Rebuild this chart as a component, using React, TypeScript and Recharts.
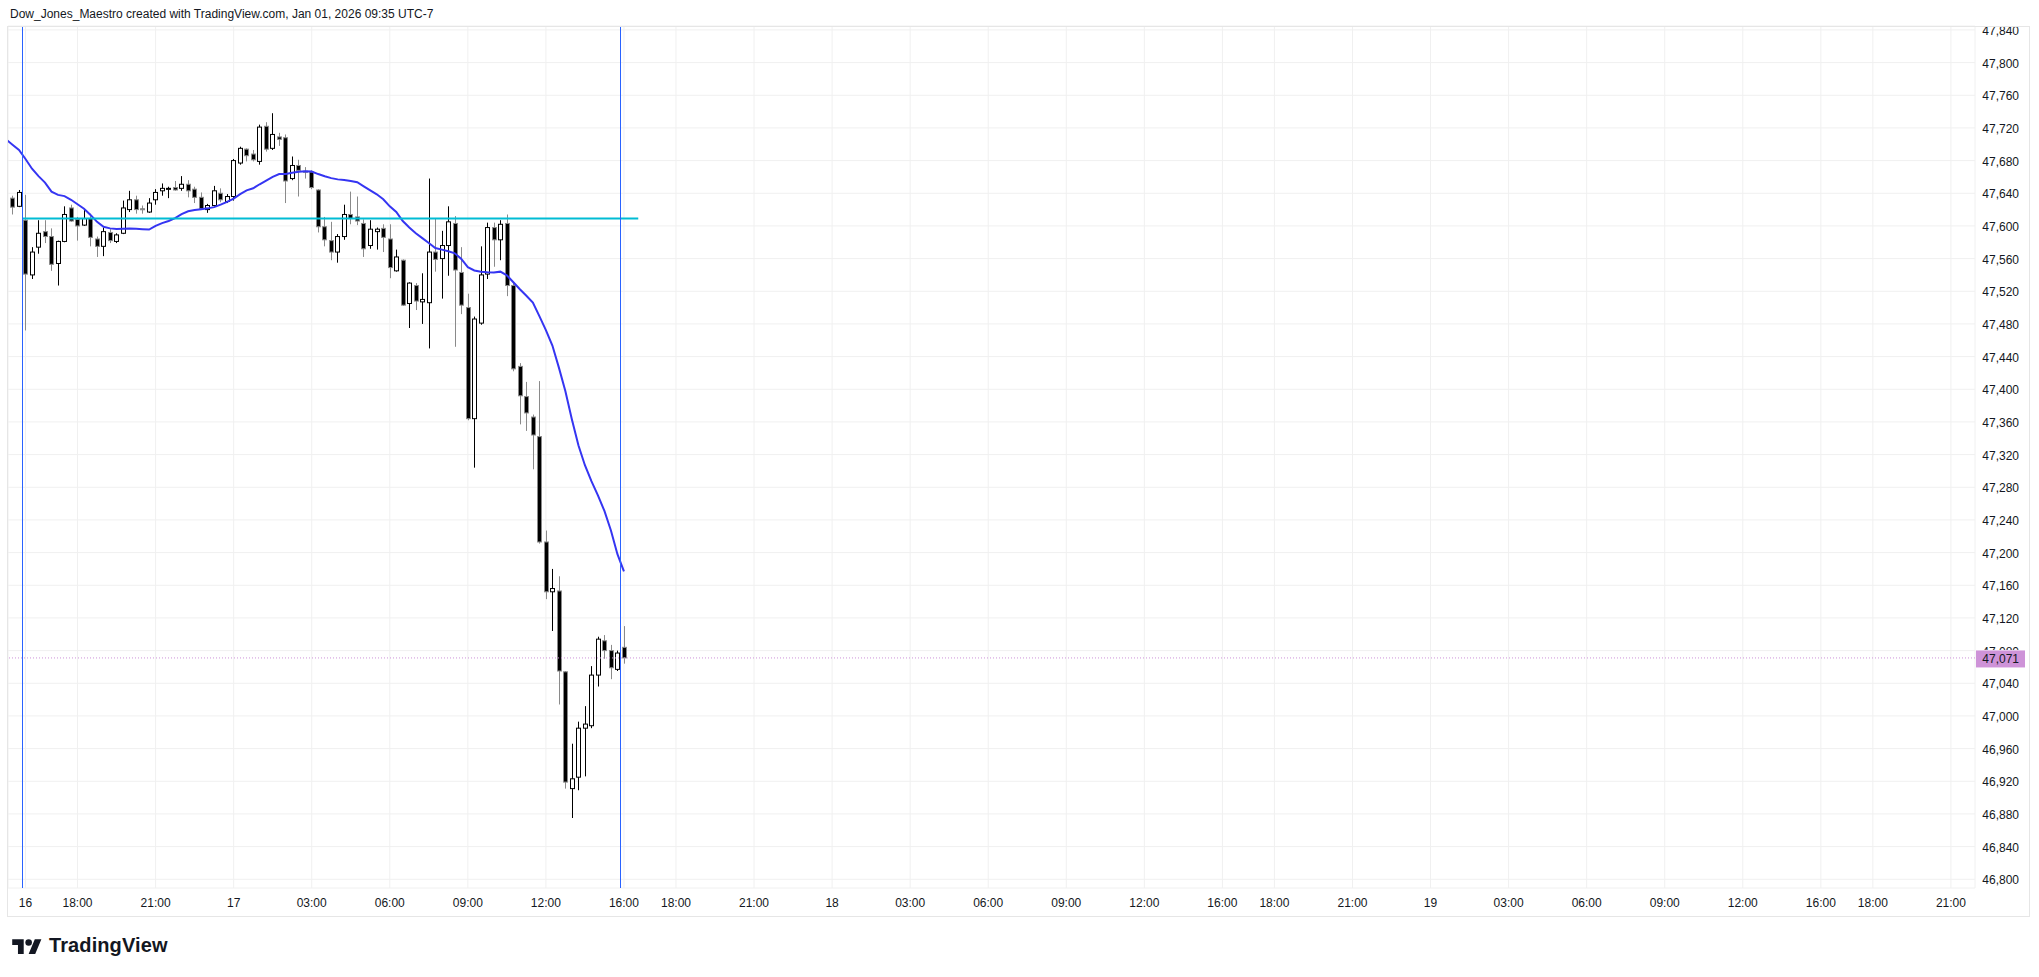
import { ComposedChart, Bar, Line, XAxis, YAxis, CartesianGrid, ReferenceLine } from "recharts"

const FONT = '"Liberation Sans", Arial, sans-serif'
const TEXT = "#131722"

// 15 minute bars. Index 0 = 16:00 session open on the 16th, first two bars are from the previous session
const firstIndex = -2
const opens = [
  47634, 47624, 47607, 47540, 47574, 47593, 47587, 47554, 47581, 47622,
  47608, 47601, 47609, 47584, 47575, 47592, 47581, 47591, 47620, 47632,
  47621, 47617, 47632, 47643, 47645, 47647, 47646, 47651, 47645, 47635,
  47620, 47625, 47640, 47630, 47636, 47677, 47694, 47688, 47679, 47722,
  47695, 47709, 47708, 47658, 47674, 47667, 47666, 47644, 47599, 47582,
  47568, 47587, 47614, 47611, 47603, 47576, 47593, 47597, 47584, 47545,
  47558, 47505, 47527, 47507, 47506, 47568, 47560, 47576, 47603, 47543,
  47500, 47364, 47481, 47541, 47598, 47583, 47603, 47527, 47428, 47391,
  47366, 47342, 47213, 47152, 47153, 47054, 46911, 46925, 46985, 46988,
  47050, 47092, 47080, 47057, 47084,
]
const highs = [
  47637, 47644, 47638, 47574, 47607, 47607, 47597, 47582, 47624, 47626,
  47611, 47620, 47615, 47587, 47598, 47596, 47591, 47631, 47643, 47637,
  47625, 47634, 47645, 47652, 47648, 47655, 47661, 47656, 47648, 47641,
  47627, 47649, 47646, 47639, 47682, 47697, 47695, 47693, 47724, 47727,
  47738, 47714, 47712, 47685, 47681, 47672, 47668, 47645, 47611, 47605,
  47590, 47626, 47642, 47636, 47608, 47607, 47598, 47602, 47602, 47571,
  47559, 47531, 47530, 47542, 47658, 47609, 47594, 47624, 47612, 47574,
  47517, 47489, 47575, 47604, 47604, 47607, 47614, 47530, 47432, 47409,
  47369, 47410, 47227, 47180, 47171, 47055, 46966, 46993, 47012, 47061,
  47097, 47099, 47087, 47080, 47110,
]
const lows = [
  47614, 47623, 47472, 47535, 47566, 47579, 47545, 47527, 47580, 47605,
  47582, 47600, 47575, 47562, 47563, 47579, 47579, 47590, 47617, 47615,
  47615, 47616, 47626, 47637, 47634, 47643, 47643, 47635, 47628, 47620,
  47616, 47624, 47629, 47628, 47631, 47675, 47679, 47679, 47675, 47691,
  47693, 47698, 47628, 47656, 47636, 47658, 47645, 47592, 47575, 47558,
  47555, 47583, 47602, 47601, 47562, 47572, 47571, 47568, 47536, 47544,
  47502, 47475, 47497, 47480, 47450, 47544, 47511, 47539, 47452, 47492,
  47362, 47304, 47479, 47535, 47550, 47558, 47514, 47422, 47357, 47349,
  47302, 47211, 47143, 47104, 47014, 46911, 46875, 46909, 46926, 46985,
  47036, 47070, 47045, 47055, 47064,
]
const closes = [
  47623, 47641, 47541, 47568, 47591, 47587, 47553, 47581, 47614, 47606,
  47600, 47609, 47586, 47575, 47593, 47582, 47589, 47622, 47632, 47620,
  47620, 47628, 47641, 47646, 47646, 47644, 47651, 47643, 47635, 47621,
  47625, 47643, 47632, 47636, 47680, 47695, 47686, 47681, 47721, 47694,
  47712, 47706, 47655, 47674, 47668, 47666, 47647, 47599, 47583, 47568,
  47587, 47614, 47609, 47606, 47572, 47596, 47596, 47586, 47549, 47562,
  47503, 47530, 47508, 47510, 47568, 47559, 47576, 47605, 47546, 47503,
  47364, 47486, 47540, 47598, 47583, 47602, 47527, 47425, 47392, 47371,
  47344, 47213, 47152, 47156, 47055, 46919, 46923, 46985, 46990, 47050,
  47094, 47080, 47059, 47077, 47071,
]

// moving average, one value per bar, starting one bar left of the first candle
const maStart = -3
const maValues = [
  47706, 47699.5, 47693, 47682, 47670, 47661, 47653, 47642, 47638, 47636.5,
  47632, 47626.5, 47621, 47613.5, 47605, 47599, 47597, 47596.3, 47596.5, 47596.7,
  47596.5, 47596, 47595.5, 47600, 47603.5, 47606, 47609.5, 47614.5, 47618, 47619.5,
  47620.5, 47621.5, 47623, 47626, 47629.5, 47633.5, 47639, 47643.5, 47646.1, 47651,
  47655.5, 47660, 47663.5, 47663.7, 47665, 47666.3, 47667, 47666.5, 47663.5, 47660.8,
  47658.5, 47657, 47656.2, 47655, 47653.5, 47648.5, 47643.5, 47638.7, 47632.7, 47624,
  47617, 47606, 47598, 47591, 47585, 47579, 47573, 47571, 47569, 47566.5,
  47559.5, 47549.5, 47545.5, 47543.8, 47543.3, 47543, 47544, 47539.5, 47531, 47522.5,
  47514.5, 47506, 47489.5, 47472.5, 47453.5, 47426.5, 47397.5, 47363, 47331.5, 47307,
  47287.5, 47270, 47251, 47227, 47198, 47177,
]

const xTickIndex = [0, 8, 20, 32, 44, 56, 68, 80, 92, 100, 112, 124, 136, 148, 160, 172, 184, 192, 204, 216, 228, 240, 252, 264, 276, 284, 296]
const xTickLabels = [
  "16", "18:00", "21:00", "17", "03:00", "06:00", "09:00", "12:00", "16:00", "18:00", "21:00",
  "18", "03:00", "06:00", "09:00", "12:00", "16:00", "18:00", "21:00",
  "19", "03:00", "06:00", "09:00", "12:00", "16:00", "18:00", "21:00",
]
const priceTicks = [
  46800, 46840, 46880, 46920, 46960, 47000, 47040, 47080, 47120, 47160, 47200, 47240, 47280, 47320,
  47360, 47400, 47440, 47480, 47520, 47560, 47600, 47640, 47680, 47720, 47760, 47800, 47840,
]
const lastPrice = 47071
const levelPrice = 47609
const levelFrom = -0.43
const levelTo = 94.2
const sessionBreaks = [-0.5, 91.5]

const rows = maValues.map((ma, k) => {
  const i = maStart + k
  const j = i - firstIndex
  if (j < 0 || j >= opens.length) return { i, ma }
  return { i, ma, o: opens[j], h: highs[j], l: lows[j], c: closes[j], range: [lows[j], highs[j]] }
})

const fmt = (v: number) => v.toLocaleString("en-US")

function Candle(props: any) {
  const { x, y, width, height, payload } = props
  if (!payload || payload.o == null || !height) return null
  const { o, h, l, c } = payload
  const k = height / (h - l)
  const py = (v: number) => y + (h - v) * k
  const up = c >= o
  const cx = Math.round(x + width / 2) + 0.5
  const top = py(Math.max(o, c))
  const bot = py(Math.min(o, c))
  const edge = up ? "#000000" : "#8a8a8a"
  return (
    <g>
      <line x1={cx} x2={cx} y1={y} y2={y + height} stroke={edge} strokeWidth={1} />
      <rect
        x={cx - 2}
        y={top}
        width={4}
        height={Math.max(bot - top, 1)}
        fill={up ? "#ffffff" : "#000000"}
        stroke={edge}
        strokeWidth={1}
      />
    </g>
  )
}

function TimeTick(props: any) {
  const { x, payload } = props
  const n = xTickIndex.indexOf(payload.value)
  return (
    <text x={x} y={907} textAnchor="middle" fontSize={12} fontFamily={FONT} fill={TEXT}>
      {xTickLabels[n]}
    </text>
  )
}

function PriceTick(props: any) {
  const { y, payload } = props
  // the tick sitting under the last-price badge only shows its top sliver
  const hidden = Math.abs(payload.value - lastPrice) < 20
  const id = `ptclip-${payload.value}`
  return (
    <g>
      {hidden && (
        <defs>
          <clipPath id={id}>
            <rect x={1970} y={y - 12} width={69} height={11.5} />
          </clipPath>
        </defs>
      )}
      <text
        x={2019}
        y={y + 5}
        textAnchor="end"
        fontSize={12}
        fontFamily={FONT}
        fill={TEXT}
        clipPath={hidden ? `url(#${id})` : undefined}
      >
        {fmt(payload.value)}
      </text>
    </g>
  )
}

function PriceBadge(props: any) {
  const { viewBox } = props
  if (!viewBox) return null
  const right = viewBox.x + viewBox.width
  const y = viewBox.y
  return (
    <g>
      <rect x={right + 1} y={y - 7.5} width={49} height={17} fill="#ce93d8" />
      <text x={2019} y={y + 5.5} textAnchor="end" fontSize={12} fontFamily={FONT} fill={TEXT}>
        {fmt(lastPrice)}
      </text>
    </g>
  )
}

export default function App() {
  return (
    <div style={{ position: "absolute", left: 0, top: 0, width: 2039, height: 977, background: "#ffffff", overflow: "hidden" }}>
      <div
        style={{
          position: "absolute", left: 10, top: 7, fontFamily: FONT, fontSize: 12, lineHeight: "14px",
          color: TEXT, whiteSpace: "nowrap",
        }}
      >
        Dow_Jones_Maestro created with TradingView.com, Jan 01, 2026 09:35 UTC-7
      </div>

      <div style={{ position: "absolute", left: 0, top: 0 }}>
        <ComposedChart width={2039} height={977} data={rows} margin={{ top: 26, right: 10, bottom: 60, left: 8 }}>
          <CartesianGrid stroke="#f0f0f0" strokeWidth={1} />
          <XAxis
            type="number"
            dataKey="i"
            domain={[-2.69, 299.7]}
            allowDataOverflow
            ticks={xTickIndex}
            interval={0}
            height={29}
            tickLine={false}
            axisLine={false}
            tick={<TimeTick />}
          />
          <YAxis
            type="number"
            orientation="right"
            domain={[46789.3, 47844.8]}
            allowDataOverflow
            ticks={priceTicks}
            interval={0}
            width={54}
            tickLine={false}
            axisLine={false}
            tick={<PriceTick />}
          />
          <Bar dataKey="range" barSize={6} shape={(p: any) => <Candle {...p} />} isAnimationActive={false} />
          <Line
            type="linear"
            dataKey="ma"
            stroke="#3535f2"
            strokeWidth={2}
            dot={false}
            activeDot={false}
            isAnimationActive={false}
          />
          <ReferenceLine
            y={lastPrice}
            stroke="#ce93d8"
            strokeWidth={1}
            strokeDasharray="1 2"
            label={(p: any) => <PriceBadge {...p} />}
            zIndex={2000}
          />
          <ReferenceLine
            segment={[{ x: levelFrom, y: levelPrice }, { x: levelTo, y: levelPrice }]}
            stroke="#00bcd4"
            strokeWidth={2}
          />
          {sessionBreaks.map((b) => (
            <ReferenceLine key={b} x={b} stroke="#2962ff" strokeWidth={1} shapeRendering="crispEdges" />
          ))}
        </ComposedChart>
      </div>

      <div style={{ position: "absolute", left: 1975, top: 0, width: 64, height: 26, background: "#ffffff" }} />
      <div
        style={{
          position: "absolute", left: 7, top: 26, width: 2023, height: 891, boxSizing: "border-box",
          border: "1px solid #e6e6e6", pointerEvents: "none",
        }}
      />

      <svg style={{ position: "absolute", left: 12, top: 936 }} width={30} height={23} viewBox="0 0 36 28">
        <path d="M14 22H7V11H0V4h14v18zM28 22h-8l7.5-18h8L28 22z" fill={TEXT} />
        <circle cx={20} cy={8} r={4} fill={TEXT} />
      </svg>
      <div
        style={{
          position: "absolute", left: 49, top: 935, fontFamily: FONT, fontSize: 20, lineHeight: "20px",
          fontWeight: 700, color: TEXT, letterSpacing: 0.1,
        }}
      >
        TradingView
      </div>
    </div>
  )
}
